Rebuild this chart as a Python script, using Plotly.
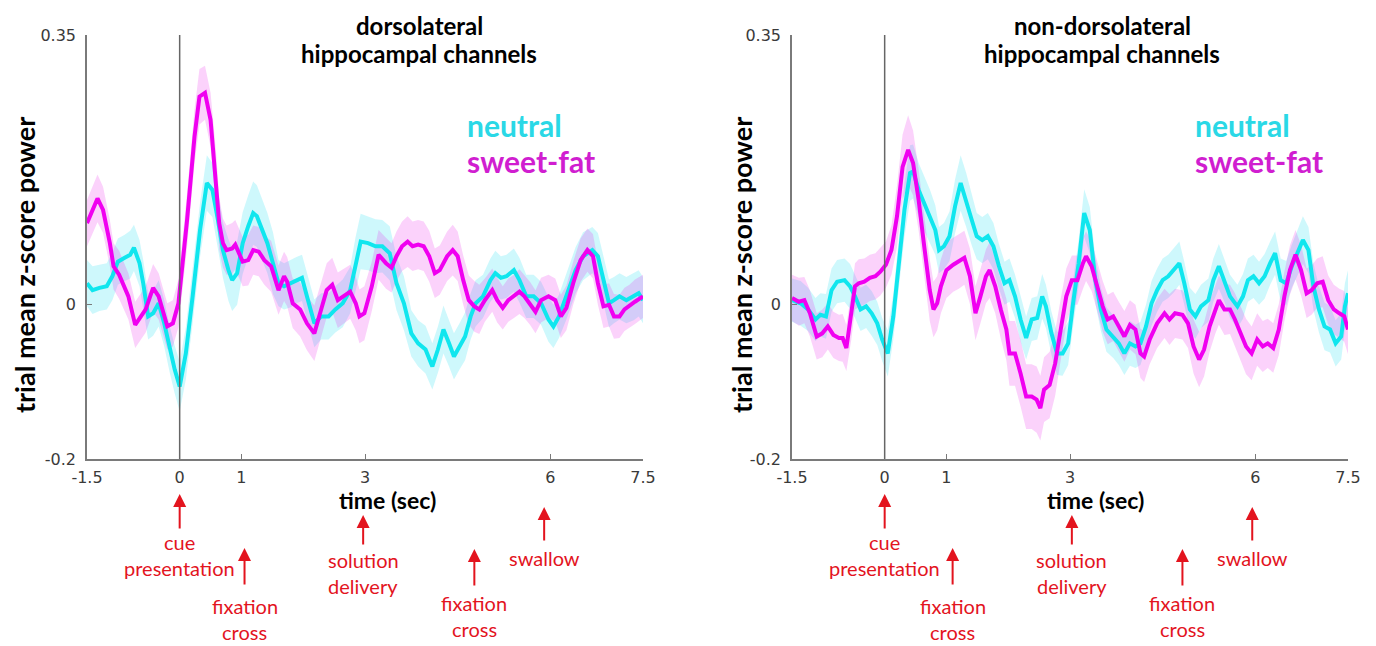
import plotly.graph_objects as go

# ---------------- data ----------------
time_left_neutral = [-1.50,-1.41,-1.30,-1.18,-1.09,-1.00,-0.89,-0.80,-0.74,-0.65,-0.59,-0.51,-0.43,-0.34,-0.25,-0.16,-0.08,0.00,0.10,0.21,
                     0.33,0.44,0.53,0.62,0.70,0.79,0.85,0.93,1.02,1.11,1.19,1.25,1.34,1.42,1.51,1.60,1.69,1.80,1.89,1.98,
                     2.06,2.18,2.29,2.41,2.52,2.64,2.76,2.85,2.93,3.05,3.17,3.28,3.40,3.51,3.63,3.75,3.86,3.98,4.09,4.18,
                     4.27,4.36,4.44,4.53,4.62,4.71,4.79,4.91,5.03,5.11,5.20,5.29,5.41,5.50,5.61,5.73,5.85,5.97,6.05,6.14,
                     6.26,6.41,6.53,6.68,6.77,6.86,6.95,7.03,7.12,7.23,7.35,7.43,7.50]
left_neutral = [0.028,0.019,0.022,0.024,0.037,0.056,0.061,0.065,0.074,0.054,0.028,-0.015,-0.011,0.002,-0.024,-0.058,-0.084,-0.106,-0.063,0.011,
                0.097,0.158,0.149,0.110,0.071,0.045,0.032,0.041,0.080,0.102,0.119,0.115,0.097,0.080,0.054,0.028,0.024,0.028,0.032,0.035,
                0.011,-0.024,-0.015,-0.015,-0.006,0.002,0.019,0.054,0.082,0.080,0.076,0.076,0.067,0.028,0.002,-0.037,-0.050,-0.058,-0.080,-0.058,
                -0.032,-0.050,-0.067,-0.054,-0.041,-0.015,0.002,0.011,0.032,0.041,0.035,0.037,0.045,0.032,0.011,0.011,0.002,-0.019,-0.028,-0.015,
                0.011,0.045,0.063,0.071,0.063,0.032,0.002,0.006,0.011,0.006,0.011,0.015,0.006]
left_neutral_sem = [0.030,0.031,0.030,0.030,0.031,0.030,0.030,0.031,0.030,0.030,0.030,0.030,0.029,0.030,0.030,0.030,0.031,0.032,0.034,0.035,
                    0.035,0.036,0.035,0.035,0.036,0.040,0.040,0.041,0.040,0.040,0.041,0.040,0.040,0.039,0.040,0.030,0.030,0.031,0.030,0.030,
                    0.030,0.031,0.030,0.030,0.030,0.031,0.030,0.035,0.036,0.035,0.035,0.034,0.035,0.035,0.035,0.030,0.030,0.031,0.030,0.030,
                    0.031,0.030,0.030,0.030,0.031,0.030,0.030,0.028,0.028,0.029,0.028,0.028,0.028,0.029,0.028,0.028,0.028,0.029,0.028,0.028,
                    0.030,0.030,0.031,0.030,0.030,0.030,0.031,0.030,0.030,0.030,0.031,0.030,0.030]

time_left_sweet = [-1.50,-1.33,-1.24,-1.13,-1.07,-0.98,-0.83,-0.72,-0.55,-0.43,-0.34,-0.20,-0.11,-0.02,0.12,0.24,0.32,0.41,0.50,0.59,
                   0.64,0.70,0.76,0.85,0.90,0.96,1.02,1.11,1.19,1.28,1.37,1.48,1.60,1.69,1.74,1.83,1.95,2.06,2.18,2.29,
                   2.38,2.47,2.56,2.76,2.85,2.91,2.99,3.11,3.22,3.34,3.43,3.51,3.60,3.69,3.77,3.86,3.95,4.04,4.13,4.21,
                   4.33,4.42,4.50,4.59,4.68,4.77,4.85,4.94,5.06,5.14,5.23,5.32,5.41,5.50,5.58,5.67,5.76,5.85,5.97,6.08,
                   6.17,6.26,6.37,6.49,6.60,6.69,6.77,6.86,6.95,7.03,7.12,7.20,7.28,7.37,7.50]
left_sweet = [0.106,0.138,0.123,0.080,0.050,0.039,0.011,-0.026,-0.006,0.022,0.011,-0.028,-0.024,0.002,0.110,0.218,0.270,0.275,0.240,0.162,
              0.106,0.080,0.071,0.073,0.078,0.067,0.056,0.058,0.071,0.069,0.058,0.050,0.019,0.037,0.030,0.002,-0.006,-0.024,-0.037,-0.006,
              0.019,0.026,0.006,0.017,0.002,-0.015,-0.011,0.024,0.065,0.054,0.048,0.063,0.076,0.082,0.076,0.078,0.076,0.063,0.041,0.045,
              0.063,0.071,0.063,0.032,0.006,-0.002,-0.006,0.006,0.019,0.006,-0.004,0.006,0.011,0.017,0.011,0.002,-0.009,0.006,0.011,0.006,
              -0.015,-0.004,0.028,0.058,0.071,0.063,0.028,-0.002,0.000,-0.015,-0.015,-0.006,-0.002,0.004,0.011]
left_sweet_sem = [0.030,0.031,0.030,0.030,0.030,0.031,0.030,0.030,0.030,0.031,0.030,0.030,0.030,0.031,0.035,0.035,0.036,0.035,0.035,0.035,
                  0.034,0.032,0.032,0.033,0.032,0.032,0.032,0.033,0.032,0.032,0.032,0.033,0.032,0.032,0.032,0.032,0.035,0.035,0.036,0.035,
                  0.035,0.035,0.036,0.035,0.035,0.035,0.035,0.032,0.032,0.033,0.032,0.032,0.032,0.033,0.032,0.032,0.032,0.033,0.032,0.032,
                  0.032,0.033,0.032,0.032,0.032,0.033,0.032,0.028,0.028,0.029,0.028,0.028,0.028,0.029,0.028,0.028,0.028,0.029,0.028,0.028,
                  0.028,0.029,0.028,0.028,0.028,0.029,0.028,0.028,0.028,0.029,0.028,0.028,0.028,0.029,0.028]

time_right_neutral = [-1.50,-1.36,-1.24,-1.12,-1.04,-0.95,-0.86,-0.77,-0.65,-0.56,-0.48,-0.39,-0.30,-0.21,-0.12,-0.04,0.05,0.14,0.23,0.32,
                      0.41,0.46,0.55,0.64,0.73,0.82,0.88,0.96,1.05,1.14,1.23,1.32,1.41,1.49,1.58,1.67,1.76,1.85,1.94,2.02,
                      2.11,2.20,2.29,2.38,2.47,2.55,2.61,2.70,2.79,2.88,2.97,3.05,3.14,3.23,3.32,3.41,3.50,3.59,3.70,3.79,
                      3.88,3.97,4.06,4.14,4.23,4.32,4.41,4.50,4.59,4.68,4.77,4.85,4.94,5.03,5.12,5.24,5.32,5.41,5.50,5.59,
                      5.71,5.80,5.88,5.97,6.06,6.15,6.24,6.32,6.41,6.50,6.59,6.68,6.77,6.86,6.94,7.03,7.12,7.21,7.30,7.39,
                      7.45,7.50]
right_neutral = [0.006,0.002,-0.006,-0.019,-0.013,-0.015,0.019,0.030,0.032,0.024,0.011,-0.006,-0.002,-0.011,-0.024,-0.045,-0.063,-0.015,0.054,0.123,
                 0.171,0.173,0.149,0.132,0.115,0.097,0.071,0.076,0.089,0.128,0.158,0.136,0.110,0.089,0.084,0.089,0.076,0.050,0.028,0.032,
                 0.011,-0.019,-0.043,-0.019,-0.017,0.011,-0.002,-0.037,-0.063,-0.063,-0.050,0.002,0.054,0.119,0.097,0.032,-0.006,-0.032,-0.041,-0.050,
                 -0.063,-0.050,-0.054,-0.050,-0.028,0.002,0.019,0.032,0.037,0.045,0.054,0.028,-0.006,-0.015,-0.002,0.006,0.032,0.050,0.032,0.011,
                 -0.002,0.011,0.032,0.037,0.028,0.037,0.054,0.067,0.032,0.028,0.050,0.067,0.084,0.071,0.024,-0.006,-0.028,-0.032,-0.050,-0.041,
                 -0.002,0.015]
right_neutral_sem = [0.028,0.029,0.028,0.028,0.028,0.029,0.028,0.028,0.028,0.029,0.028,0.028,0.028,0.029,0.028,0.028,0.030,0.030,0.032,0.035,
                     0.036,0.035,0.035,0.036,0.035,0.032,0.030,0.030,0.032,0.035,0.036,0.035,0.033,0.030,0.030,0.030,0.030,0.029,0.028,0.028,
                     0.028,0.029,0.028,0.028,0.028,0.029,0.028,0.028,0.028,0.029,0.028,0.030,0.030,0.031,0.030,0.030,0.028,0.029,0.028,0.028,
                     0.028,0.029,0.028,0.028,0.028,0.029,0.028,0.028,0.028,0.029,0.028,0.028,0.028,0.029,0.028,0.028,0.028,0.029,0.028,0.028,
                     0.028,0.029,0.028,0.028,0.028,0.029,0.028,0.028,0.028,0.029,0.028,0.030,0.031,0.030,0.030,0.030,0.031,0.030,0.030,0.030,
                     0.030,0.030]

time_right_sweet = [-1.50,-1.39,-1.30,-1.21,-1.10,-1.01,-0.92,-0.83,-0.74,-0.68,-0.62,-0.54,-0.48,-0.42,-0.33,-0.24,-0.15,-0.07,0.02,0.11,
                    0.20,0.29,0.38,0.46,0.55,0.64,0.73,0.79,0.85,0.91,1.00,1.11,1.20,1.29,1.38,1.47,1.55,1.64,1.70,1.79,
                    1.88,1.97,2.02,2.11,2.20,2.29,2.38,2.46,2.52,2.58,2.67,2.76,2.85,2.94,3.03,3.12,3.21,3.26,3.35,3.44,
                    3.53,3.61,3.70,3.79,3.88,3.97,4.06,4.14,4.20,4.29,4.41,4.53,4.61,4.70,4.82,4.91,5.00,5.09,5.17,5.26,
                    5.35,5.41,5.50,5.59,5.67,5.76,5.85,5.94,6.03,6.12,6.20,6.29,6.38,6.47,6.56,6.65,6.74,6.83,6.91,7.00,
                    7.09,7.18,7.27,7.36,7.44,7.50]
right_sweet = [0.009,0.004,0.006,-0.011,-0.041,-0.037,-0.028,-0.039,-0.043,-0.043,-0.056,-0.015,0.024,0.028,0.030,0.035,0.037,0.043,0.052,0.071,
               0.115,0.179,0.201,0.184,0.136,0.076,0.019,-0.006,0.002,0.024,0.045,0.052,0.056,0.061,0.037,-0.011,0.011,0.037,0.045,0.024,
               -0.006,-0.032,-0.063,-0.063,-0.089,-0.119,-0.119,-0.123,-0.134,-0.110,-0.104,-0.076,-0.032,0.011,0.032,0.032,0.054,0.063,0.050,0.024,
               -0.002,-0.019,-0.015,-0.028,-0.041,-0.026,-0.032,-0.063,-0.067,-0.045,-0.024,-0.011,-0.019,-0.011,-0.013,-0.024,-0.054,-0.071,-0.058,-0.028,
               -0.006,0.006,-0.006,-0.006,-0.019,-0.037,-0.054,-0.063,-0.045,-0.054,-0.050,-0.056,-0.032,0.011,0.045,0.065,0.045,0.015,0.019,0.028,
               0.030,0.006,-0.006,-0.011,-0.015,-0.032]
right_sweet_sem = [0.030,0.031,0.030,0.030,0.030,0.031,0.030,0.030,0.030,0.031,0.030,0.030,0.030,0.031,0.030,0.030,0.030,0.031,0.030,0.032,
                   0.040,0.042,0.045,0.042,0.040,0.040,0.040,0.036,0.035,0.035,0.036,0.035,0.035,0.035,0.036,0.035,0.035,0.035,0.036,0.035,
                   0.038,0.040,0.042,0.042,0.043,0.042,0.042,0.043,0.042,0.042,0.043,0.042,0.040,0.036,0.032,0.032,0.033,0.032,0.032,0.032,
                   0.033,0.032,0.032,0.032,0.033,0.032,0.032,0.032,0.033,0.032,0.032,0.032,0.033,0.032,0.032,0.032,0.035,0.036,0.035,0.033,
                   0.032,0.032,0.033,0.032,0.034,0.035,0.036,0.035,0.034,0.033,0.032,0.032,0.033,0.032,0.032,0.032,0.033,0.032,0.032,0.032,
                   0.033,0.032,0.032,0.032,0.033,0.032]

x_tick_vals = [-1.5, 0, 1, 3, 6, 7.5]
x_tick_text = ["-1.5", "0", "1", "3", "6", "7.5"]
y_tick_vals = [-0.2, 0, 0.35]
y_tick_text = ["-0.2", "0", "0.35"]

panel_titles = [("dorsolateral", "hippocampal channels"), ("non-dorsolateral", "hippocampal channels")]
series_names = ["neutral", "sweet-fat"]
y_title = "trial mean z-score power"
x_title = "time (sec)"

# event markers: (time, label lines)
events_left = [(0.0, ["cue", "presentation"]), (1.05, ["fixation", "cross"]), (2.97, ["solution", "delivery"]),
               (4.77, ["fixation", "cross"]), (5.90, ["swallow"])]
events_right = [(0.0, ["cue", "presentation"]), (1.10, ["fixation", "cross"]), (3.03, ["solution", "delivery"]),
                (4.82, ["fixation", "cross"]), (5.95, ["swallow"])]

# ---------------- styling ----------------
W, H = 1376, 646
CYAN = "#10E6EE"
MAG = "#F000F0"
CYAN_FILL = "rgba(30,225,240,0.22)"
MAG_FILL = "rgba(235,30,235,0.20)"
CYAN_TXT = "#2AD8E6"
MAG_TXT = "#D01ED0"
RED = "#E3141E"
AX = "#7a7a7a"
TXT_FONT = "Lato"


def py(p):
    return (H - p) / H


fig = go.Figure()


def add_series(t, v, s, fill_col, xa, ya):
    upper = [a + b for a, b in zip(v, s)]
    lower = [a - b for a, b in zip(v, s)]
    fig.add_trace(go.Scatter(x=t + t[::-1], y=upper + lower[::-1], fill="toself", fillcolor=fill_col,
                             line=dict(width=0), mode="lines", hoverinfo="skip", showlegend=False,
                             xaxis=xa, yaxis=ya))


def add_line(t, v, line_col, xa, ya, name):
    fig.add_trace(go.Scatter(x=t, y=v, mode="lines", line=dict(color=line_col, width=4), name=name,
                             showlegend=False, xaxis=xa, yaxis=ya))


panels = [
    ("x", "y", time_left_neutral, left_neutral, left_neutral_sem, time_left_sweet, left_sweet, left_sweet_sem),
    ("x2", "y2", time_right_neutral, right_neutral, right_neutral_sem, time_right_sweet, right_sweet, right_sweet_sem),
]
for xa, ya, tn, vn, sn, ts, vs, ss in panels:
    add_series(tn, vn, sn, CYAN_FILL, xa, ya)
    add_series(ts, vs, ss, MAG_FILL, xa, ya)
    add_line(tn, vn, CYAN, xa, ya, series_names[0])
    add_line(ts, vs, MAG, xa, ya, series_names[1])

tickfont = dict(family="DejaVu Sans", size=16, color="#3a3a3a")
xa_common = dict(range=[-1.5, 7.5], tickvals=x_tick_vals, ticktext=x_tick_text, showgrid=False, zeroline=False,
                 showline=True, linecolor=AX, linewidth=1.5, ticks="inside", ticklen=5, tickcolor=AX, tickwidth=1.2,
                 tickfont=tickfont, ticklabelstandoff=3, automargin=False)
ya_common = dict(range=[-0.2, 0.35], tickvals=y_tick_vals, ticktext=y_tick_text, showgrid=False, zeroline=False,
                 showline=True, linecolor=AX, linewidth=1.5, ticks="inside", ticklen=5, tickcolor=AX, tickwidth=1.2,
                 tickfont=tickfont, ticklabelstandoff=6, automargin=False)

ydom = [py(459), py(35)]
fig.update_layout(
    width=W, height=H, margin=dict(l=0, r=0, t=0, b=0, autoexpand=False),
    paper_bgcolor="white", plot_bgcolor="white",
    xaxis=dict(domain=[87 / W, 643 / W], anchor="y", **xa_common),
    yaxis=dict(domain=ydom, anchor="x", **ya_common),
    xaxis2=dict(domain=[792 / W, 1348 / W], anchor="y2", **xa_common),
    yaxis2=dict(domain=ydom, anchor="x2", **ya_common),
)

# vertical line at t = 0
for xr, yr in (("x", "y"), ("x2", "y2")):
    fig.add_shape(type="line", xref=xr, yref=yr, x0=0, x1=0, y0=-0.2, y1=0.35,
                  line=dict(color="#666666", width=1.5))

ann = []
title_cx = [419, 1102]
legend_lx = [465, 1193]
ytitle_cx = [24, 741]
xtitle_t = [3.37, 3.42]
xrefs = ["x", "x2"]
for i in range(2):
    ann.append(dict(x=title_cx[i] / W, y=py(25), xref="paper", yref="paper", text="<b>%s</b>" % panel_titles[i][0],
                    showarrow=False, font=dict(family=TXT_FONT, size=24, color="black"), xanchor="center", yanchor="middle"))
    ann.append(dict(x=title_cx[i] / W, y=py(54), xref="paper", yref="paper", text="<b>%s</b>" % panel_titles[i][1],
                    showarrow=False, font=dict(family=TXT_FONT, size=24, color="black"), xanchor="center", yanchor="middle"))
    ann.append(dict(x=legend_lx[i] / W, y=py(125), xref="paper", yref="paper", text="<b>%s</b>" % series_names[0],
                    showarrow=False, font=dict(family=TXT_FONT, size=30, color=CYAN_TXT), xanchor="left", yanchor="middle"))
    ann.append(dict(x=legend_lx[i] / W, y=py(161), xref="paper", yref="paper", text="<b>%s</b>" % series_names[1],
                    showarrow=False, font=dict(family=TXT_FONT, size=30, color=MAG_TXT), xanchor="left", yanchor="middle"))
    ann.append(dict(x=ytitle_cx[i] / W, y=py(265), xref="paper", yref="paper", text="<b>%s</b>" % y_title,
                    showarrow=False, textangle=-90, font=dict(family=TXT_FONT, size=27, color="black"),
                    xanchor="center", yanchor="middle"))
    ann.append(dict(x=xtitle_t[i], y=py(500), xref=xrefs[i], yref="paper", text="<b>%s</b>" % x_title,
                    showarrow=False, font=dict(family=TXT_FONT, size=23, color="black"), xanchor="center", yanchor="middle"))

# event arrows and labels: (tip px, tail px, first label line px)
layout_ev = [(494, 530, 542), (548, 586, 606), (515, 546, 560), (549, 587, 603), (507, 542, 558)]
for i, events in enumerate((events_left, events_right)):
    for (t, lines), (tip, tail, lab) in zip(events, layout_ev):
        ann.append(dict(x=t, y=py(tip), xref=xrefs[i], yref="paper", text="", showarrow=True,
                        ax=0, ay=tail - tip, axref="pixel", ayref="pixel", arrowhead=2, arrowsize=1.3,
                        arrowwidth=2, arrowcolor=RED))
        for k, s in enumerate(lines):
            ann.append(dict(x=t, y=py(lab + 26 * k), xref=xrefs[i], yref="paper", text=s, showarrow=False,
                            font=dict(family=TXT_FONT, size=20, color=RED), xanchor="center", yanchor="middle"))

fig.update_layout(annotations=ann)
fig.write_html("out.html")
